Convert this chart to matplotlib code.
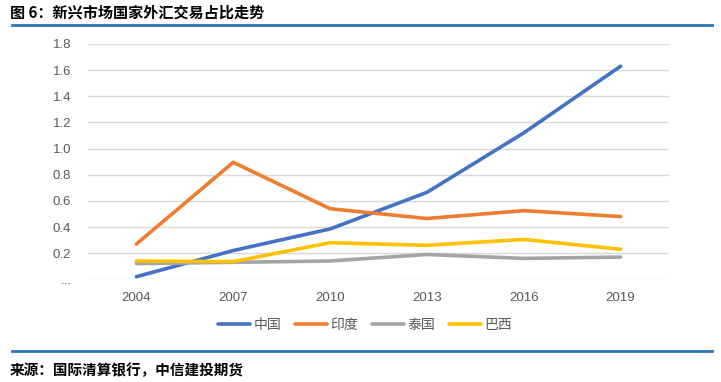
import matplotlib
matplotlib.use("Agg")
import matplotlib.pyplot as plt
from matplotlib.lines import Line2D

plt.rcParams['font.family'] = ['Noto Sans CJK SC', 'DejaVu Sans']

years = ["2004", "2007", "2010", "2013", "2016", "2019"]
china = [0.02, 0.22, 0.385, 0.665, 1.12, 1.63]
india = [0.27, 0.895, 0.54, 0.465, 0.525, 0.48]
thailand = [0.12, 0.13, 0.14, 0.19, 0.16, 0.17]
brazil = [0.14, 0.135, 0.28, 0.26, 0.305, 0.23]
series_names = ["中国", "印度", "泰国", "巴西"]
yticks = [0, 0.2, 0.4, 0.6, 0.8, 1.0, 1.2, 1.4, 1.6, 1.8]
ytick_labels = ["...", "0.2", "0.4", "0.6", "0.8", "1.0", "1.2", "1.4", "1.6", "1.8"]

colors = ["#4472C4", "#ED7D31", "#A5A5A5", "#FFC000"]

W, H = 721, 382
fig = plt.figure(figsize=(W / 100, H / 100), dpi=100)
ax = fig.add_axes([88 / W, (H - 279.3) / H, (669 - 88) / W, (279.3 - 44) / H])

x = list(range(len(years)))
data = [china, india, thailand, brazil]
order = [2, 3, 1, 0]
for i in order:
    ax.plot(x, data[i], color=colors[i], lw=2.6, solid_capstyle='round',
            solid_joinstyle='round', zorder=3 + i)

ax.set_xlim(-0.5, len(years) - 0.5)
ax.set_ylim(0, 1.8)
ax.set_yticks(yticks)
ax.set_yticklabels(ytick_labels)
ax.set_xticks(x)
ax.set_xticklabels(years)
ax.grid(axis='y', color='#D9D9D9', lw=1)
ax.set_axisbelow(True)
for s in ax.spines.values():
    s.set_visible(False)
ax.tick_params(axis='both', length=0, colors='#595959', labelsize=9.5)
ax.tick_params(axis='y', pad=12)
ax.tick_params(axis='x', pad=9)
for lab in ax.get_xticklabels() + ax.get_yticklabels():
    lab.set_fontfamily(['Liberation Sans', 'DejaVu Sans'])

handles = [Line2D([0], [0], color=colors[i], lw=2.6, solid_capstyle='round') for i in range(4)]
fig.legend(handles, series_names, loc='center', bbox_to_anchor=(365 / W, 1 - 325 / H),
           ncol=4, frameon=False, fontsize=10, handlelength=2.3, handletextpad=0.25,
           columnspacing=1.0, labelcolor='#595959')

fig.text(10 / W, 1 - 13 / H, "图 6：新兴市场国家外汇交易占比走势", fontsize=10.9,
         fontweight='bold', va='center', ha='left', color='#000000')
fig.add_artist(Line2D([12 / W, 712 / W], [1 - 24.5 / H, 1 - 24.5 / H], color='#2E75B6', lw=2))
fig.add_artist(Line2D([12 / W, 712 / W], [1 - 351 / H, 1 - 351 / H], color='#2E75B6', lw=2))
fig.text(10 / W, 1 - 370 / H, "来源：国际清算银行，中信建投期货", fontsize=10.5,
         fontweight='bold', fontstyle='italic', va='center', ha='left', color='#000000')

fig.savefig("out.png", dpi=100)
